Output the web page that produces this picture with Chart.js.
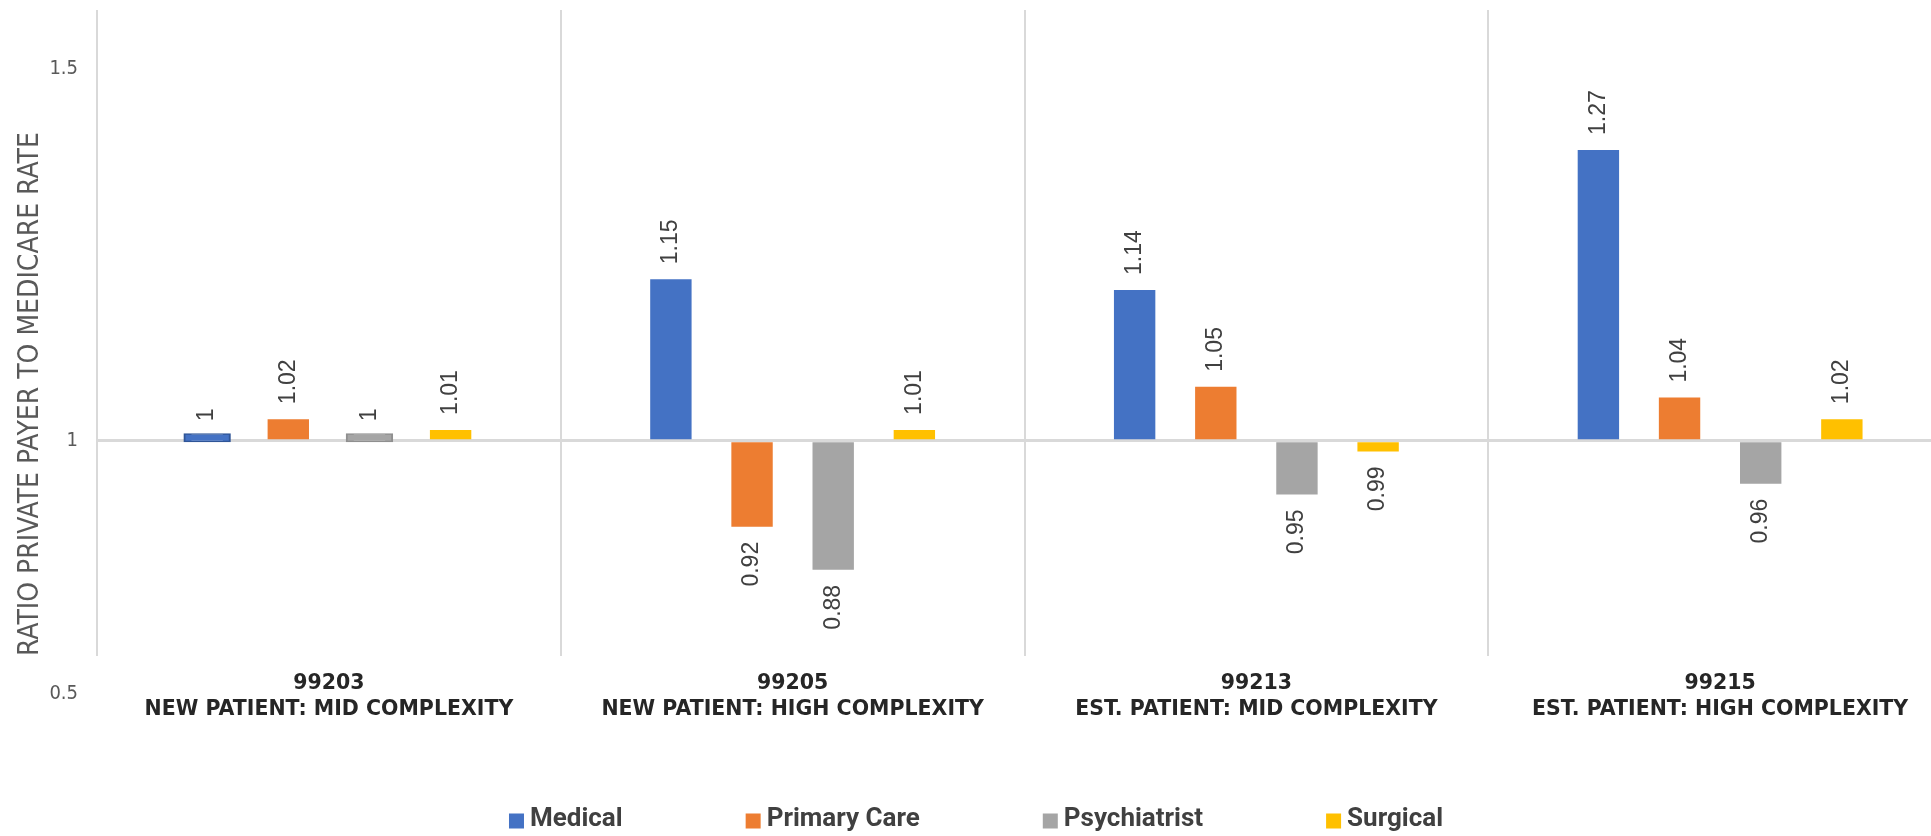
<!DOCTYPE html>
<html>
<head>
<meta charset="utf-8">
<script src="https://cdn.jsdelivr.net/npm/chart.js@4.4.1/dist/chart.umd.min.js"></script>
<style>
html,body{margin:0;padding:0;overflow:hidden;background:#ffffff}
#wrap{width:1952px;height:836px}
</style>
</head>
<body>
<div id="wrap"><canvas id="c" width="1952" height="836"></canvas></div>
<script>
// ---- data ----
const categories = [
  ['99203', 'NEW PATIENT: MID COMPLEXITY'],
  ['99205', 'NEW PATIENT: HIGH COMPLEXITY'],
  ['99213', 'EST. PATIENT: MID COMPLEXITY'],
  ['99215', 'EST. PATIENT: HIGH COMPLEXITY']
];
const seriesNames = ['Medical', 'Primary Care', 'Psychiatrist', 'Surgical'];
const medical      = [1.004, 1.15, 1.14, 1.27];
const primaryCare  = [1.02, 0.92, 1.05, 1.04];
const psychiatrist = [1.004, 0.88, 0.95, 0.96];
const surgical     = [1.01, 1.01, 0.99, 1.02];
const yTickLabels  = ['1.5', '1', '0.5'];
const yTickValues  = [1.345, 1, 0.765];
const baseline = 1;
const yMin = 0.8, yMax = 1.4;

// ---- styles ----
const colors = ['#4472C4', '#ED7D31', '#A5A5A5', '#FFC000'];
const edgeColors = ['#2F5597', '#ED7D31', '#8F8F8F', '#FFC000'];
const NARROW = "'Liberation Sans Narrow', 'DejaVu Sans Condensed', Roboto, sans-serif";

const fmt = v => String(Math.round(v * 100) / 100);

const valueLabels = {
  id: 'valueLabels',
  afterDatasetsDraw(chart) {
    const ctx = chart.ctx;
    const gap = 15;
    ctx.save();
    ctx.font = "23px 'Liberation Sans', Arial, sans-serif";
    ctx.fillStyle = '#404040';
    ctx.textBaseline = 'middle';
    chart.data.datasets.forEach((ds, di) => {
      const meta = chart.getDatasetMeta(di);
      meta.data.forEach((bar, i) => {
        const v = ds.data[i];
        const up = v >= baseline;
        ctx.save();
        ctx.translate(bar.x, bar.y + (up ? -gap : gap));
        ctx.rotate(-Math.PI / 2);
        ctx.textAlign = up ? 'left' : 'right';
        ctx.fillText(fmt(v), 0, 0);
        ctx.restore();
      });
    });
    ctx.restore();
  }
};

const bottomLegend = {
  id: 'bottomLegend',
  afterDraw(chart) {
    const ctx = chart.ctx;
    const box = 15, gapText = 6, gapItem = 123;
    ctx.save();
    ctx.font = "bold 26px Roboto, sans-serif";
    ctx.textBaseline = 'middle';
    ctx.textAlign = 'left';
    const items = chart.data.datasets.map(ds => ({
      text: ds.label, color: ds.backgroundColor, w: ctx.measureText(ds.label).width
    }));
    const total = items.reduce((s, it) => s + box + gapText + it.w, 0) + gapItem * (items.length - 1);
    let x = chart.width / 2 - total / 2;
    const yc = chart.height - 17;
    items.forEach(it => {
      ctx.fillStyle = it.color;
      ctx.fillRect(x, yc - box / 2 + 2, box, box);
      ctx.fillStyle = '#404040';
      ctx.fillText(it.text, x + box + gapText, yc);
      x += box + gapText + it.w + gapItem;
    });
    ctx.restore();
  }
};

const seriesData = [medical, primaryCare, psychiatrist, surgical];
const datasets = seriesData.map((d, k) => ({
  label: seriesNames[k],
  data: d,
  backgroundColor: colors[k],
  borderColor: edgeColors[k],
  borderWidth: (k === 0 || k === 2) ? (c => c.dataIndex === 0 ? 2 : 0) : 0,
  borderSkipped: false,
  inflateAmount: (k === 0 || k === 2) ? (c => c.dataIndex === 0 ? 3 : 'auto') : 'auto'
}));

new Chart(document.getElementById('c'), {
  type: 'bar',
  data: { labels: categories, datasets },
  options: {
    responsive: false,
    animation: false,
    devicePixelRatio: 1,
    layout: { padding: { top: 10, bottom: 106, left: 0, right: 0 } },
    datasets: { bar: { base: baseline, categoryPercentage: 0.7, barPercentage: 0.51 } },
    plugins: {
      tooltip: { enabled: false },
      legend: { display: false }
    },
    scales: {
      x: {
        grid: { color: '#d9d9d9', lineWidth: 2, drawTicks: false, offset: true },
        border: { display: false },
        ticks: {
          color: '#262626',
          font: { family: "'DejaVu Sans'", weight: 'bold', size: 20.5, lineHeight: 1.25 },
          padding: 15, maxRotation: 0, minRotation: 0, autoSkip: false
        },
        afterFit(s) { s.height = 74; s.paddingLeft = 0; s.paddingRight = 0; }
      },
      y: {
        z: 1,
        min: yMin, max: yMax,
        afterBuildTicks(s) { s.ticks = yTickValues.map(v => ({ value: v })); },
        ticks: {
          callback: (v, i) => yTickLabels[i],
          color: '#595959',
          font: { family: NARROW, size: 20 },
          padding: 19,
          autoSkip: false
        },
        grid: {
          color: c => (c.tick && c.tick.value === baseline) ? '#d9d9d9' : 'rgba(0,0,0,0)',
          lineWidth: 3, drawTicks: false
        },
        border: { display: false },
        title: {
          display: true,
          text: 'RATIO PRIVATE PAYER TO MEDICARE RATE',
          align: 'start',
          color: '#595959',
          font: { family: NARROW, size: 28 },
          padding: { top: 14, bottom: 0 }
        },
        afterFit(s) { s.width = 97; s.paddingTop = 0; s.paddingBottom = 0; }
      }
    }
  },
  plugins: [valueLabels, bottomLegend]
});
</script>
</body>
</html>
